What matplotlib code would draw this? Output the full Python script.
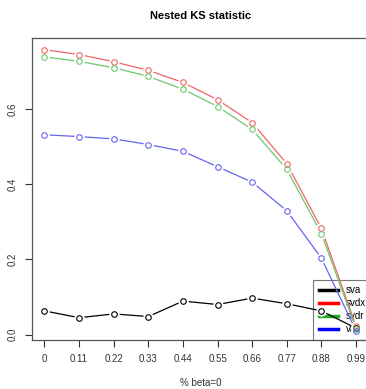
import numpy as np
from matplotlib import pyplot as plt

plt.rcParams['font.family'] = ['Liberation Sans', 'DejaVu Sans']

beta = [0, 0.11, 0.22, 0.33, 0.44, 0.55, 0.66, 0.77, 0.88, 0.99]
tick_labels = ["0", "0.11", "0.22", "0.33", "0.44", "0.55", "0.66", "0.77", "0.88", "0.99"]
sva = [0.063, 0.045, 0.055, 0.048, 0.089, 0.080, 0.097, 0.082, 0.063, 0.017]
svdx = [0.757, 0.744, 0.725, 0.702, 0.670, 0.624, 0.563, 0.454, 0.282, 0.022]
svdr = [0.738, 0.726, 0.709, 0.686, 0.652, 0.606, 0.545, 0.439, 0.268, 0.016]
van = [0.531, 0.526, 0.520, 0.505, 0.487, 0.446, 0.405, 0.329, 0.203, 0.010]

serie = [("sva", sva, "#000000", "black"),
         ("svdx", svdx, "#f06464", "red"),
         ("svdr", svdr, "#6cc86c", "#22b022"),
         ("van", van, "#6464f0", "blue")]

W, H = 366, 389
fig = plt.figure(figsize=(W / 100, H / 100), dpi=100)
ax = fig.add_axes([32 / W, 1 - 340 / H, (368.5 - 32) / W, (340 - 38) / H])

for nome, valori, colore, col_leg in serie:
    ax.plot(beta, valori, color=colore, lw=0.9, zorder=2)
    ax.plot(beta, valori, linestyle="None", marker="o", markersize=6.5,
            markerfacecolor="white", markeredgecolor="white", zorder=3)
    ax.plot(beta, valori, linestyle="None", marker="o", markersize=4,
            markerfacecolor="none", markeredgecolor=colore, markeredgewidth=0.8, zorder=4)

ax.set_xlim(-0.0396, 1.0296)
ax.set_ylim(-0.0143, 0.788)
ax.set_xticks(beta)
ax.set_xticklabels(tick_labels)
ax.set_yticks([0.0, 0.2, 0.4, 0.6])
ax.set_yticklabels(["0.0", "0.2", "0.4", "0.6"], rotation=90, va="center")
ax.tick_params(direction="out", length=5, width=0.8, labelsize=7, colors="#333333", pad=5)
for s in ax.spines.values():
    s.set_color("#555555")
    s.set_linewidth(0.9)

ax.set_title("Nested KS statistic", fontsize=8, fontweight="bold", pad=14)
ax.set_xlabel("% beta=0", fontsize=7, labelpad=10, color="#333333")

maniglie = [plt.Line2D([], [], color=c, lw=2.5) for _, _, _, c in serie]
leg = ax.legend(maniglie, [n for n, _, _, _ in serie], loc="lower right",
                bbox_to_anchor=(1.01, 0.0), fontsize=7, frameon=True, fancybox=False,
                handlelength=2.0, handletextpad=0.8, labelspacing=0.3,
                borderpad=0.6, borderaxespad=0)
leg.get_frame().set_facecolor("none")
leg.get_frame().set_edgecolor("#555555")
leg.get_frame().set_linewidth(0.8)
leg.set_zorder(1)

fig.savefig("out.png", dpi=100)
